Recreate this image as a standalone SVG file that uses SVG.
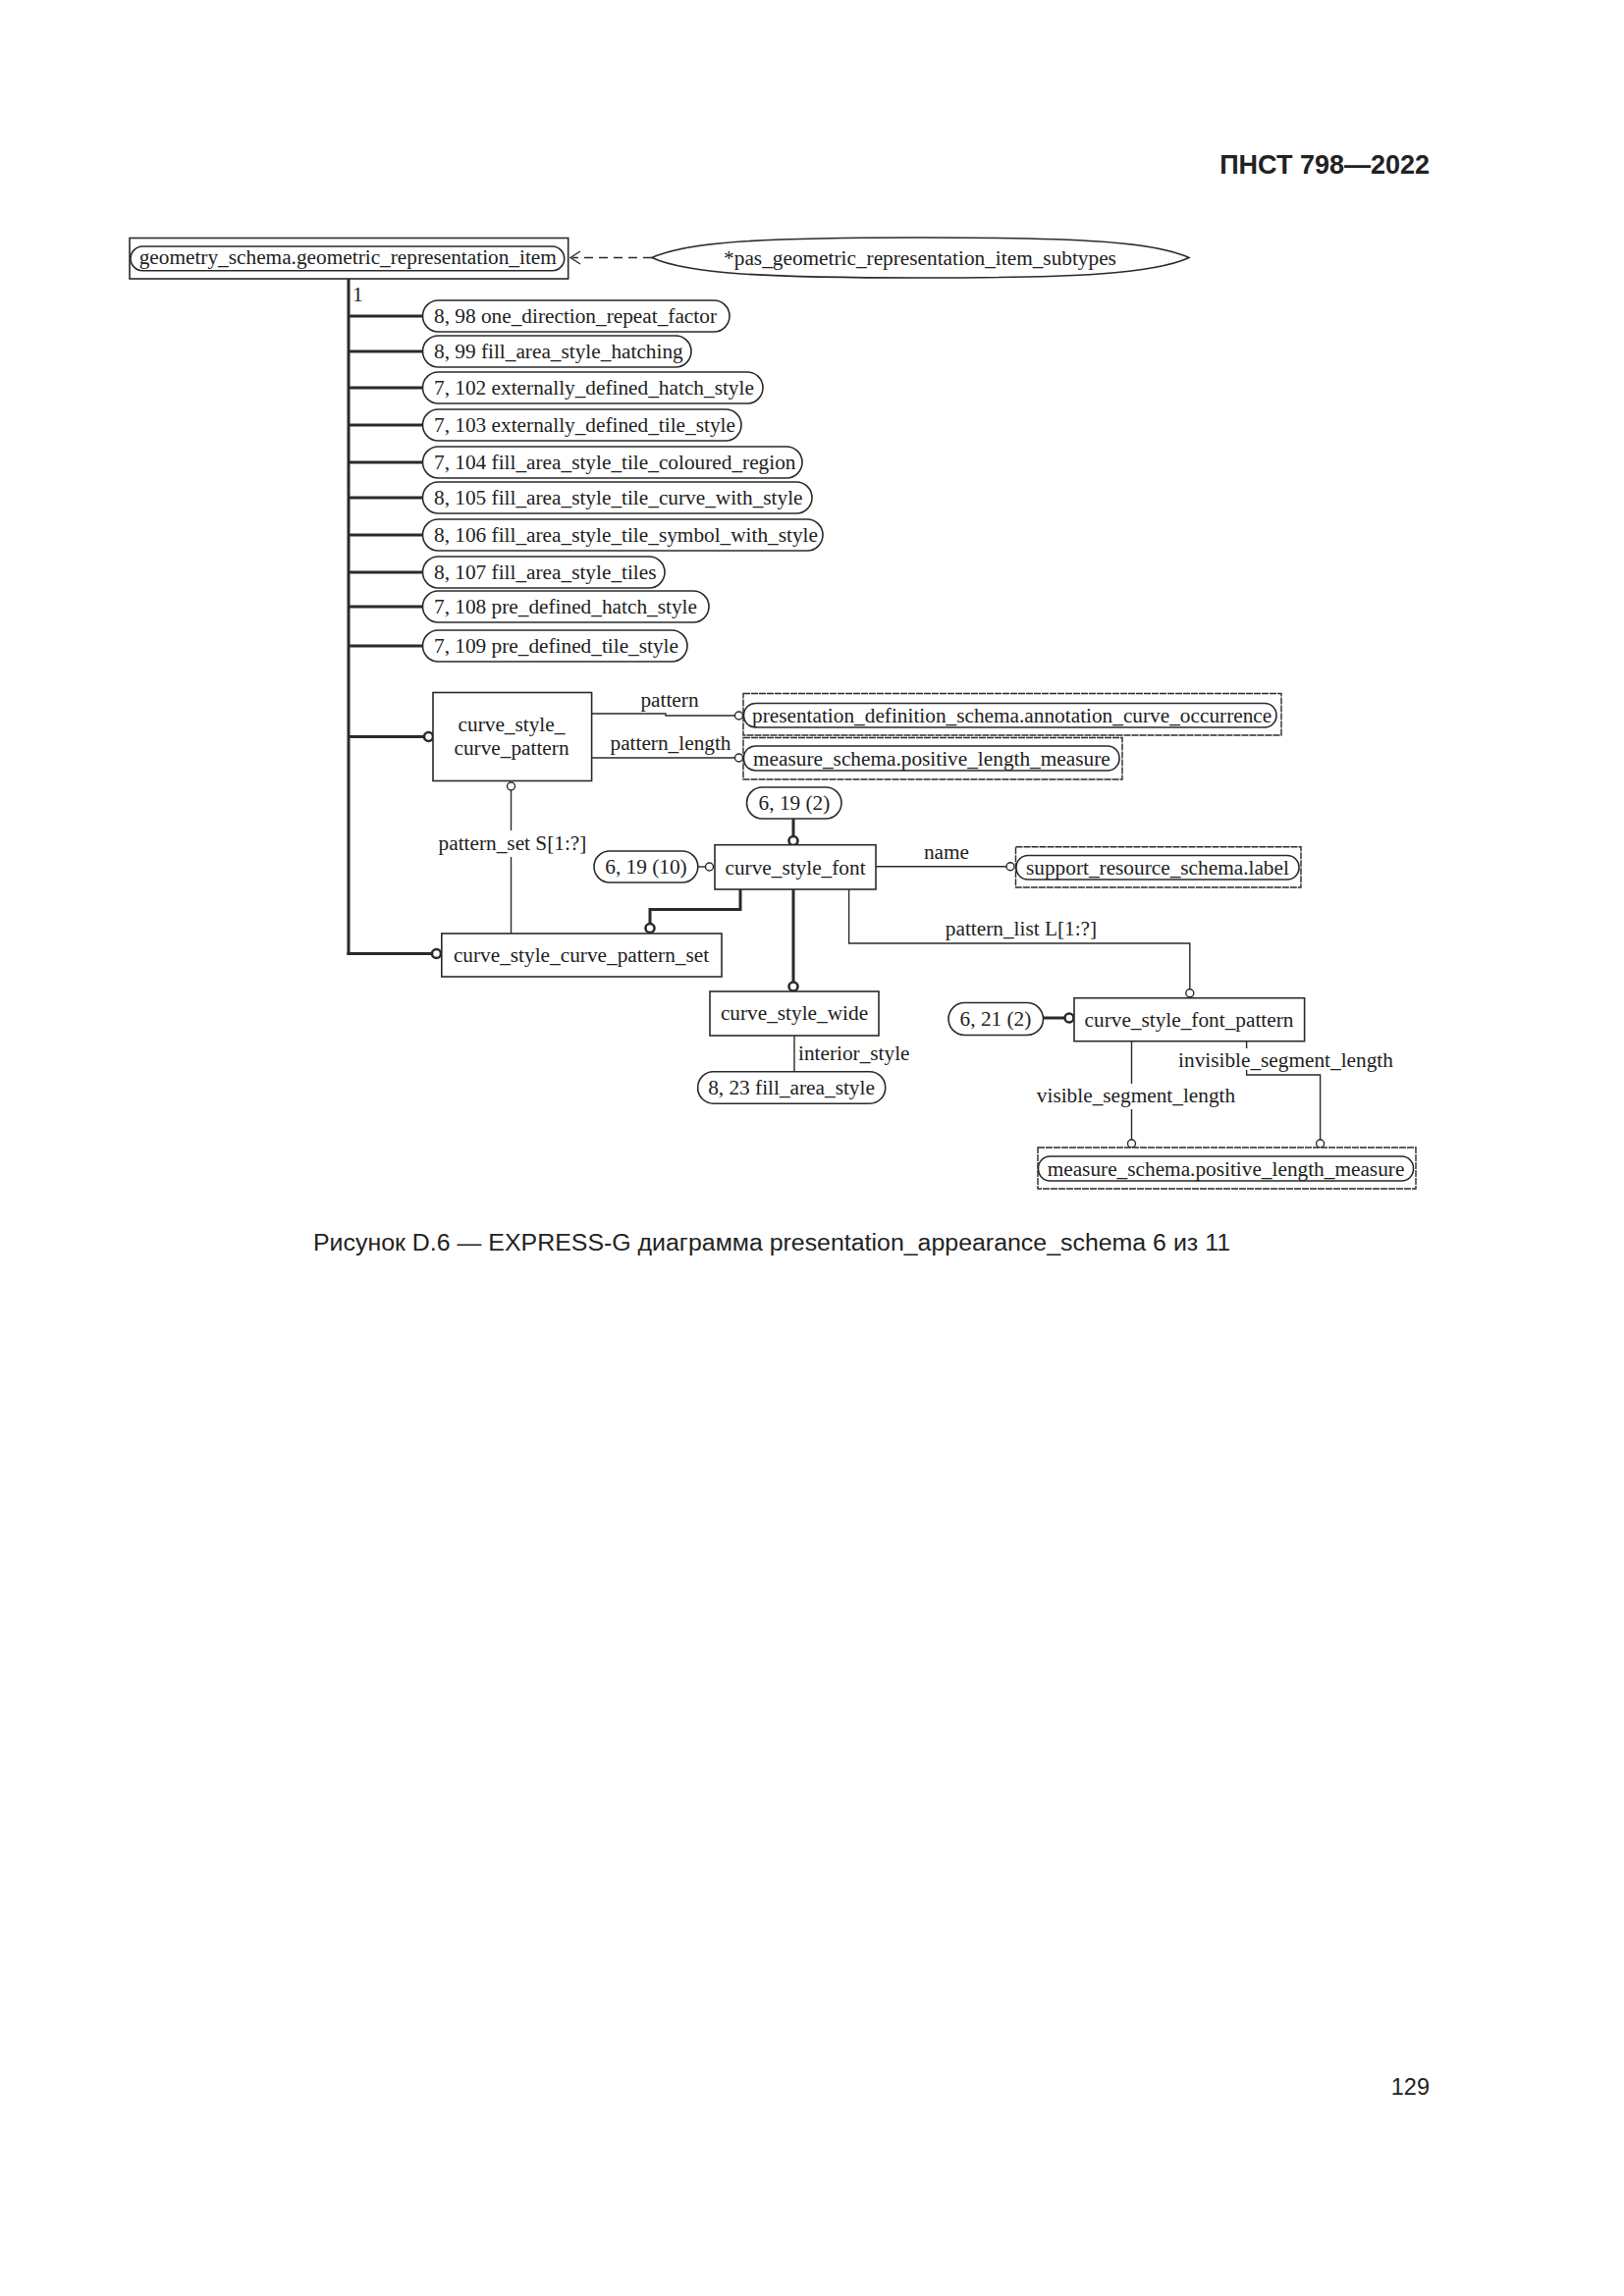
<svg xmlns="http://www.w3.org/2000/svg" width="1654" height="2339" viewBox="0 0 1654 2339">
<style>
.bg{fill:#fff}
.box{fill:#fff;stroke:#2a2a2a;stroke-width:1.6}
.ext{fill:#fff;stroke:#2a2a2a;stroke-width:1.4;stroke-dasharray:7 1}
.rr{fill:#fff;stroke:#2a2a2a;stroke-width:1.6}
.t{font-family:"Liberation Serif","Times New Roman",serif;font-size:21.3px;fill:#222}
.c{text-anchor:middle}
.thin{fill:none;stroke:#2a2a2a;stroke-width:1.4}
.thick{fill:none;stroke:#2a2a2a;stroke-width:3}
.oc{fill:#fff;stroke:#2a2a2a;stroke-width:1.4}
.ock{fill:#fff;stroke:#2a2a2a;stroke-width:2.6}
.hdr{font-family:"Liberation Sans",Arial,sans-serif;font-weight:bold;font-size:27px;fill:#222}
.cap{font-family:"Liberation Sans",Arial,sans-serif;font-size:23.5px;fill:#222}
</style>
<rect class="bg" x="0" y="0" width="1654" height="2339"/>
<text class="hdr" x="1456" y="177" text-anchor="end">ПНСТ 798—2022</text>

<g id="connectors">
  <line class="thin" x1="664" y1="262.5" x2="583" y2="262.5" stroke-dasharray="9 6"/>
  <polyline class="thin" points="591,256 581,262.5 591,269"/>
  <line class="thick" x1="355" y1="284" x2="355" y2="973"/>
  <g class="thick">
    <line x1="355" y1="322" x2="430.5" y2="322"/>
    <line x1="355" y1="358" x2="430.5" y2="358"/>
    <line x1="355" y1="395" x2="430.5" y2="395"/>
    <line x1="355" y1="433" x2="430.5" y2="433"/>
    <line x1="355" y1="471" x2="430.5" y2="471"/>
    <line x1="355" y1="507" x2="430.5" y2="507"/>
    <line x1="355" y1="545" x2="430.5" y2="545"/>
    <line x1="355" y1="583" x2="430.5" y2="583"/>
    <line x1="355" y1="618" x2="430.5" y2="618"/>
    <line x1="355" y1="658" x2="430.5" y2="658"/>
    <line x1="355" y1="750.5" x2="432" y2="750.5"/>
    <line x1="353.5" y1="971.5" x2="440" y2="971.5"/>
  </g>
  <circle class="ock" cx="436.5" cy="750.5" r="4.5"/>
  <circle class="ock" cx="444.5" cy="971.5" r="4.5"/>
  <polyline class="thin" points="602.6,727 678,727 678,729 748,729"/>
  <circle class="oc" cx="752.5" cy="729" r="4"/>
  <line class="thin" x1="602.6" y1="772" x2="748.5" y2="772"/>
  <circle class="oc" cx="752.5" cy="772" r="4"/>
  <circle class="oc" cx="520.5" cy="801" r="4"/>
  <line class="thin" x1="520.5" y1="805" x2="520.5" y2="846"/>
  <line class="thin" x1="520.5" y1="873" x2="520.5" y2="951"/>
  <line class="thick" x1="808" y1="834" x2="808" y2="852"/>
  <circle class="ock" cx="808" cy="856.5" r="4.5"/>
  <line class="thin" x1="710.8" y1="883" x2="718" y2="883"/>
  <circle class="oc" cx="722.5" cy="883" r="4"/>
  <polyline class="thick" points="754,906 754,926.5 662,926.5 662,941"/>
  <circle class="ock" cx="662" cy="945.5" r="4.5"/>
  <line class="thick" x1="808" y1="906" x2="808" y2="1000.5"/>
  <circle class="ock" cx="808" cy="1005" r="4.5"/>
  <line class="thin" x1="892" y1="882.7" x2="1025" y2="882.7"/>
  <circle class="oc" cx="1029" cy="882.7" r="4"/>
  <polyline class="thin" points="864.6,906 864.6,961 1211.8,961 1211.8,1007.5"/>
  <circle class="oc" cx="1211.8" cy="1011.8" r="4"/>
  <line class="thin" x1="809" y1="1055" x2="809" y2="1091.7"/>
  <line class="thick" x1="1062.5" y1="1037" x2="1084.5" y2="1037"/>
  <circle class="ock" cx="1089" cy="1037" r="4.5"/>
  <line class="thin" x1="1152.5" y1="1060.7" x2="1152.5" y2="1104"/>
  <line class="thin" x1="1152.5" y1="1130" x2="1152.5" y2="1161"/>
  <circle class="oc" cx="1152.5" cy="1165" r="4"/>
  <line class="thin" x1="1269.6" y1="1060.7" x2="1269.6" y2="1068"/>
  <polyline class="thin" points="1269.6,1090 1269.6,1095 1344.6,1095 1344.6,1161"/>
  <circle class="oc" cx="1344.6" cy="1165" r="4"/>
</g>

<g id="geometric_representation_item">
  <rect class="box" x="132" y="242.5" width="446.7" height="41.5"/>
  <rect class="rr" x="133" y="251" width="441.7" height="24.7" rx="12.3"/>
  <text class="t" x="141.7" y="268.5">geometry_schema.geometric_representation_item</text>
</g>
<text class="t" x="359" y="307">1</text>

<g id="pas_geometric_representation_item_subtypes">
  <path class="box" d="M664,262.5 C700,246 780,242 937.5,242 C1095,242 1175,246 1211,262.5 C1175,279 1095,283 937.5,283 C780,283 700,279 664,262.5 Z"/>
  <text class="t c" x="937" y="269.5">*pas_geometric_representation_item_subtypes</text>
</g>

<g id="r98"><rect class="rr" x="430.5" y="306" width="312.5" height="32" rx="16"/><text class="t" x="442" y="329">8, 98 one_direction_repeat_factor</text></g>
<g id="r99"><rect class="rr" x="430.5" y="342" width="273.5" height="32" rx="16"/><text class="t" x="442" y="365">8, 99 fill_area_style_hatching</text></g>
<g id="r102"><rect class="rr" x="430.5" y="379" width="346.5" height="32" rx="16"/><text class="t" x="442" y="402">7, 102 externally_defined_hatch_style</text></g>
<g id="r103"><rect class="rr" x="430.5" y="417" width="324.5" height="32" rx="16"/><text class="t" x="442" y="440">7, 103 externally_defined_tile_style</text></g>
<g id="r104"><rect class="rr" x="430.5" y="455" width="386.5" height="32" rx="16"/><text class="t" x="442" y="478">7, 104 fill_area_style_tile_coloured_region</text></g>
<g id="r105"><rect class="rr" x="430.5" y="491" width="396.5" height="32" rx="16"/><text class="t" x="442" y="514">8, 105 fill_area_style_tile_curve_with_style</text></g>
<g id="r106"><rect class="rr" x="430.5" y="529" width="407.5" height="32" rx="16"/><text class="t" x="442" y="552">8, 106 fill_area_style_tile_symbol_with_style</text></g>
<g id="r107"><rect class="rr" x="430.5" y="567" width="246.5" height="32" rx="16"/><text class="t" x="442" y="590">8, 107 fill_area_style_tiles</text></g>
<g id="r108"><rect class="rr" x="430.5" y="602" width="291.5" height="32" rx="16"/><text class="t" x="442" y="625">7, 108 pre_defined_hatch_style</text></g>
<g id="r109"><rect class="rr" x="430.5" y="642" width="269.5" height="32" rx="16"/><text class="t" x="442" y="665">7, 109 pre_defined_tile_style</text></g>

<g id="curve_style_curve_pattern">
  <rect class="box" x="441" y="705.5" width="161.6" height="90"/>
  <text class="t c" x="521" y="745">curve_style_</text>
  <text class="t c" x="521" y="769">curve_pattern</text>
</g>
<g id="annotation_curve_occurrence">
  <rect class="ext" x="757" y="706.5" width="548" height="42.5"/>
  <rect class="rr" x="757.5" y="716.5" width="542.5" height="24.5" rx="12"/>
  <text class="t" x="766" y="736">presentation_definition_schema.annotation_curve_occurrence</text>
</g>
<g id="positive_length_measure_1">
  <rect class="ext" x="757" y="751.5" width="386" height="42.5"/>
  <rect class="rr" x="757.5" y="760" width="382.5" height="25" rx="12"/>
  <text class="t" x="767" y="780">measure_schema.positive_length_measure</text>
</g>
<text class="t c" x="682" y="720">pattern</text>
<text class="t c" x="683" y="764">pattern_length</text>
<text class="t c" x="522" y="866">pattern_set S[1:?]</text>

<g id="n6_19_2"><rect class="rr" x="760.5" y="802" width="96.5" height="32" rx="16"/><text class="t c" x="809" y="825">6, 19 (2)</text></g>
<g id="n6_19_10"><rect class="rr" x="605" y="867" width="105.8" height="32" rx="16"/><text class="t c" x="658" y="890">6, 19 (10)</text></g>

<g id="curve_style_font">
  <rect class="box" x="728" y="860.7" width="164" height="45.3"/>
  <text class="t c" x="810" y="890.5">curve_style_font</text>
</g>
<text class="t c" x="964" y="875">name</text>
<g id="support_resource_schema_label">
  <rect class="ext" x="1034.5" y="862.7" width="290.5" height="41.3"/>
  <rect class="rr" x="1035" y="871.5" width="288" height="24.5" rx="12"/>
  <text class="t" x="1045" y="891">support_resource_schema.label</text>
</g>
<text class="t c" x="1040" y="953">pattern_list L[1:?]</text>

<g id="curve_style_curve_pattern_set">
  <rect class="box" x="449.8" y="951" width="285.2" height="44"/>
  <text class="t c" x="592" y="980">curve_style_curve_pattern_set</text>
</g>
<g id="curve_style_wide">
  <rect class="box" x="723" y="1010" width="172" height="45"/>
  <text class="t c" x="809" y="1039">curve_style_wide</text>
</g>
<text class="t" x="813" y="1080">interior_style</text>
<g id="n8_23"><rect class="rr" x="710.7" y="1091.7" width="191" height="32.5" rx="16"/><text class="t c" x="806" y="1115">8, 23 fill_area_style</text></g>

<g id="n6_21_2"><rect class="rr" x="966" y="1021.5" width="96.5" height="33" rx="16.5"/><text class="t c" x="1014" y="1045">6, 21 (2)</text></g>
<g id="curve_style_font_pattern">
  <rect class="box" x="1094" y="1016.7" width="234.6" height="44"/>
  <text class="t c" x="1211" y="1046">curve_style_font_pattern</text>
</g>
<text class="t c" x="1309.5" y="1087">invisible_segment_length</text>
<text class="t c" x="1157" y="1123">visible_segment_length</text>
<g id="positive_length_measure_2">
  <rect class="ext" x="1057" y="1169" width="385" height="42"/>
  <rect class="rr" x="1057.5" y="1178" width="382" height="25" rx="12"/>
  <text class="t c" x="1248.5" y="1197.5">measure_schema.positive_length_measure</text>
</g>

<text class="cap" x="319" y="1274" textLength="934" lengthAdjust="spacingAndGlyphs">Рисунок D.6 — EXPRESS-G диаграмма presentation_appearance_schema 6 из 11</text>
<text class="cap" x="1456" y="2134" text-anchor="end">129</text>
</svg>
